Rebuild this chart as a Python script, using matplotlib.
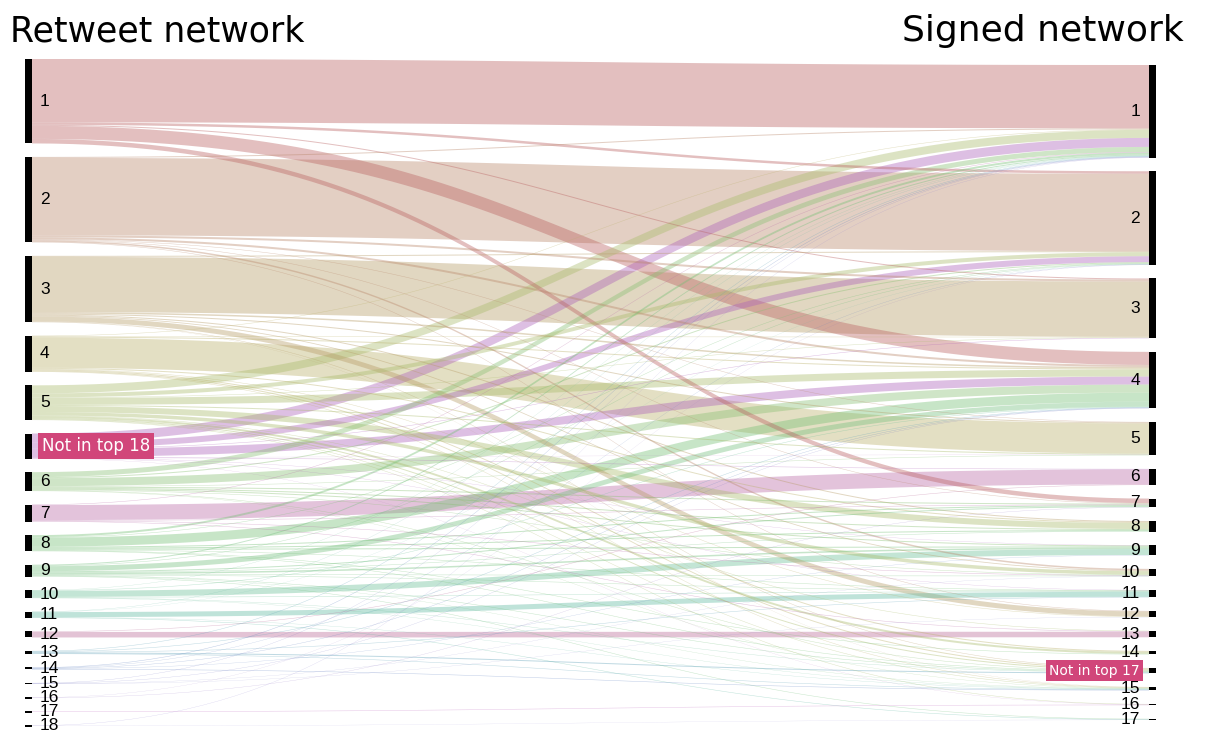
import numpy as np
import matplotlib.pyplot as plt
from matplotlib.patches import Rectangle

# node order top -> bottom
left_nodes = ['1', '2', '3', '4', '5', 'Not in top 18', '6', '7', '8', '9',
              '10', '11', '12', '13', '14', '15', '16', '17', '18']
right_nodes = ['1', '2', '3', '4', '5', '6', '7', '8', '9', '10', '11', '12',
               '13', '14', 'Not in top 17', '15', '16', '17']

left_colors = ['#b96161', '#b9876b', '#b69b66', '#bbb16b', '#a9bb6b', '#ac61b9',
               '#89c073', '#b969a7', '#75c075', '#75c07f', '#6bc096', '#61b9a2',
               '#b96997', '#61a2b9', '#6080c0', '#7070c0', '#9070c0', '#c070c0',
               '#9080d0']

# flows: retweet community -> signed community (share of users)
flow_src = ['1'] * 5 + ['2'] * 8 + ['3'] * 9 + ['4'] * 9 + ['5'] * 12 \
    + ['Not in top 18'] * 9 + ['6'] * 10 + ['7'] * 5 + ['8'] * 9 + ['9'] * 11 \
    + ['10'] * 6 + ['11'] * 5 + ['12'] * 2 + ['13'] * 5 + ['14'] * 5 \
    + ['15'] * 4 + ['16'] * 2 + ['17'] * 1 + ['18'] * 2
flow_dst = ['1', '2', '3', '4', '7',
            '1', '2', '3', '4', '5', '7', '10', '12',
            '2', '3', '4', '5', '8', '10', '12', 'Not in top 17', '15',
            '1', '3', '4', '5', '8', '12', '14', 'Not in top 17', '15',
            '1', '2', '3', '4', '5', '8', '10', '13', '14', 'Not in top 17', '15', '16',
            '1', '2', '3', '4', '5', '6', '9', '11', '16',
            '1', '2', '4', '5', '7', '8', '9', '10', 'Not in top 17', '15',
            '1', '6', '7', '10', '13',
            '1', '2', '4', '7', '8', '9', '11', '14', 'Not in top 17',
            '1', '2', '4', '7', '8', '9', '10', '11', 'Not in top 17', '15', '17',
            '1', '4', '9', '11', 'Not in top 17', '15',
            '1', '2', '11', '15', '17',
            '6', '13',
            '1', '4', '11', 'Not in top 17', '15',
            '1', '2', '4', '9', '15',
            '1', '4', '10', '12',
            '2', '7',
            '16',
            '1', '17']
flow_val = [63, 2.5, 1, 13, 4.5,
            1, 77, 2, 2, 0.5, 0.5, 1.5, 0.5,
            1, 55, 1.5, 1, 1, 0.8, 5, 0.5, 0.2,
            0.5, 0.5, 1, 30, 1, 0.5, 1, 1, 0.5,
            8, 4, 0.5, 7, 1, 6, 3.5, 0.5, 2, 1, 0.5, 0.5,
            9, 6, 0.5, 8, 0.2, 0.5, 0.3, 0.3, 0.2,
            5, 1, 8, 0.5, 1, 1, 1, 0.5, 0.5, 0.3,
            0.5, 15, 0.5, 0.5, 0.5,
            2, 0.5, 9, 1, 1, 1, 0.5, 0.5, 0.5,
            1, 0.5, 5, 1, 0.5, 1.5, 0.5, 0.5, 0.5, 0.3, 0.5,
            0.3, 0.5, 6, 0.5, 0.4, 0.3,
            0.3, 0.2, 5, 0.3, 0.5,
            0.5, 5.5,
            0.5, 0.5, 0.5, 1, 0.5,
            0.5, 0.3, 0.4, 0.3, 0.5,
            0.3, 0.3, 0.2, 0.2,
            0.2, 0.3,
            0.5,
            0.3, 0.2]

W, H = 1205, 734
fig = plt.figure(figsize=(W / 100, H / 100), dpi=100)
ax = fig.add_axes([0, 0, 1, 1])
ax.set_xlim(0, W)
ax.set_ylim(H, 0)
ax.axis('off')

x_left, x_right = 32, 1149
bar_w = 7
label_font = 'Liberation Sans'


def node_totals(nodes, key):
    tot = {n: 0.0 for n in nodes}
    for s, d, v in zip(flow_src, flow_dst, flow_val):
        tot[s if key == 'src' else d] += v
    return tot


left_tot = node_totals(left_nodes, 'src')
right_tot = node_totals(right_nodes, 'dst')
total = sum(flow_val)
gap = 13.5
scale = (726 - 59 - gap * (len(left_nodes) - 1)) / total
gap_r = (720 - 65 - total * scale) / (len(right_nodes) - 1)

left_y, y = {}, 59
for n in left_nodes:
    left_y[n] = y
    y += left_tot[n] * scale + gap
right_y, y = {}, 65
for n in right_nodes:
    right_y[n] = y
    y += right_tot[n] * scale + gap_r

# flow slots: at source ordered by target, at target ordered by source
order = sorted(range(len(flow_val)),
               key=lambda i: (left_nodes.index(flow_src[i]), right_nodes.index(flow_dst[i])))
src_off = dict(left_y)
y0 = {}
for i in order:
    y0[i] = src_off[flow_src[i]]
    src_off[flow_src[i]] += flow_val[i] * scale
order_r = sorted(range(len(flow_val)),
                 key=lambda i: (right_nodes.index(flow_dst[i]), left_nodes.index(flow_src[i])))
dst_off = dict(right_y)
y1 = {}
for i in order_r:
    y1[i] = dst_off[flow_dst[i]]
    dst_off[flow_dst[i]] += flow_val[i] * scale

t = np.linspace(0, 1, 80)
b0, b1, b2, b3 = (1 - t) ** 3, 3 * (1 - t) ** 2 * t, 3 * (1 - t) * t ** 2, t ** 3
dx = x_right - x_left
xs = b0 * x_left + b1 * (x_left + 0.5 * dx) + b2 * (x_right - 0.5 * dx) + b3 * x_right
for i in sorted(range(len(flow_val)), key=lambda i: -flow_val[i]):
    h = flow_val[i] * scale
    top = (b0 + b1) * y0[i] + (b2 + b3) * y1[i]
    bot = top + h
    col = left_colors[left_nodes.index(flow_src[i])]
    ax.fill(np.concatenate([xs, xs[::-1]]), np.concatenate([top, bot[::-1]]),
            color=col, alpha=0.4, lw=0)

# node bars and labels
for n in left_nodes:
    h = max(left_tot[n] * scale, 1.5)
    ax.add_patch(Rectangle((x_left - bar_w, left_y[n]), bar_w, h, color='black', lw=0))
    yc = left_y[n] + left_tot[n] * scale / 2
    if n.startswith('Not'):
        ax.text(42, yc, n, fontsize=12, color='white', va='center', ha='left',
                bbox=dict(boxstyle='square,pad=0.25', fc='#d1467a', ec='none'))
    else:
        ax.text(40, yc, n, fontsize=12.5, va='center', ha='left', family=label_font)
for n in right_nodes:
    h = max(right_tot[n] * scale, 1.5)
    ax.add_patch(Rectangle((x_right, right_y[n]), bar_w, h, color='black', lw=0))
    yc = right_y[n] + right_tot[n] * scale / 2
    if n.startswith('Not'):
        ax.text(1140, yc, n, fontsize=10, color='white', va='center', ha='right',
                bbox=dict(boxstyle='square,pad=0.25', fc='#d1467a', ec='none'))
    else:
        ax.text(1140, yc, n, fontsize=12.5, va='center', ha='right', family=label_font)

ax.text(10, 41, 'Retweet network', fontsize=25, ha='left', va='baseline')
ax.text(1184, 41, 'Signed network', fontsize=26, ha='right', va='baseline')

fig.savefig('out.png', dpi=100)
